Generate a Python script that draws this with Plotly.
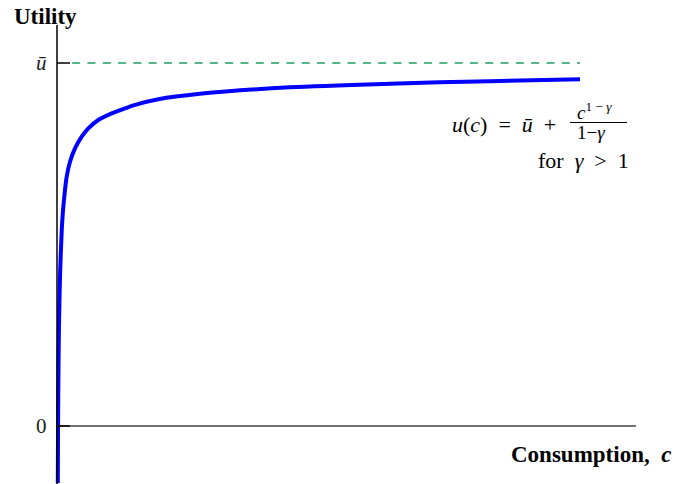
import plotly.graph_objects as go

# ---- data ----
consumption = [0.0153, 0.0201, 0.0287, 0.0382, 0.0574, 0.0765, 0.1013, 0.1396, 0.1855,
               0.2486, 0.3442, 0.4723, 0.5985, 0.7897, 1.0459, 1.3002, 1.478, 1.937,
               2.734, 4.455, 6.367, 8.279, 10.0]
utility = [-0.157, 0.0, 0.160, 0.278, 0.410, 0.490, 0.567, 0.632, 0.687,
           0.728, 0.765, 0.797, 0.820, 0.843, 0.861, 0.875, 0.884, 0.900,
           0.915, 0.933, 0.943, 0.950, 0.955]
u_bar = 1.0
bar_c = [0.29, 10.0]
tick_vals = [0, u_bar]
tick_labels = ["0", "<i>ū</i>"]

W, H = 675, 484
X0, SX = 57, 52.3   # pixel of c=0, px per unit
Y0, SY = 426, 363   # pixel of u=0, px per unit

def px(x):
    return x / W

def py(y):
    return 1 - y / H

FONT = "Liberation Serif"
SP = "\u2002"

fig = go.Figure()

fig.add_trace(go.Scatter(x=bar_c, y=[u_bar, u_bar], mode="lines",
                         line=dict(color="#1e9e60", width=1.4, dash="8px,7.3px"),
                         hoverinfo="skip"))
fig.add_trace(go.Scatter(x=consumption, y=utility, mode="lines",
                         line=dict(color="#0000ff", width=4, shape="spline", smoothing=0.8),
                         hoverinfo="skip"))

x_axis_end = (636 - X0) / SX
y_axis_top = (Y0 - 25) / SY
y_bottom = (Y0 - 490) / SY
tick_len = (70 - X0) / SX

shapes = [
    dict(type="line", xref="x", yref="y", x0=0, x1=x_axis_end, y0=0, y1=0,
         line=dict(color="#444444", width=1.5)),
    dict(type="line", xref="x", yref="y", x0=0, x1=0, y0=y_bottom, y1=y_axis_top,
         line=dict(color="#000000", width=1.5)),
]
for v in tick_vals:
    shapes.append(dict(type="line", xref="x", yref="y", x0=0, x1=tick_len, y0=v, y1=v,
                       line=dict(color="#000000", width=1.5)))
# fraction bar
shapes.append(dict(type="line", xref="paper", yref="paper", x0=px(570), x1=px(627),
                   y0=py(122.5), y1=py(122.5), line=dict(color="#000000", width=1)))

annotations = []
for v, lab in zip(tick_vals, tick_labels):
    annotations.append(dict(x=0, y=v, xref="x", yref="y", text=lab, showarrow=False,
                            xanchor="right", yanchor="middle", xshift=-8,
                            font=dict(family=FONT, size=21, color="#222222")))

annotations += [
    dict(x=px(12), y=py(16), xref="paper", yref="paper", text="<b>Utility</b>",
         showarrow=False, xanchor="left", yanchor="middle",
         font=dict(family=FONT, size=23, color="#000000")),
    dict(x=px(673), y=py(454), xref="paper", yref="paper",
         text="<b>Consumption," + SP + "<i>c</i></b>", showarrow=False,
         xanchor="right", yanchor="middle",
         font=dict(family=FONT, size=23, color="#000000")),
    dict(x=px(558), y=py(124), xref="paper", yref="paper",
         text="<i>u</i>(<i>c</i>)" + SP + "=" + SP + "<i>ū</i>" + SP + "+",
         showarrow=False, xanchor="right", yanchor="middle",
         font=dict(family=FONT, size=22, color="#000000")),
    dict(x=px(594), y=py(111), xref="paper", yref="paper",
         text="<i>c</i><sup>1 − <i>γ</i></sup>", showarrow=False,
         xanchor="center", yanchor="middle",
         font=dict(family=FONT, size=19, color="#000000")),
    dict(x=px(591), y=py(132), xref="paper", yref="paper",
         text="1−<i>γ</i>", showarrow=False,
         xanchor="center", yanchor="middle",
         font=dict(family=FONT, size=19, color="#000000")),
    dict(x=px(631), y=py(161), xref="paper", yref="paper",
         text="for" + SP + "<i>γ</i>" + SP + ">" + SP + "1", showarrow=False,
         xanchor="right", yanchor="middle",
         font=dict(family=FONT, size=22, color="#000000")),
]

fig.update_layout(
    width=W, height=H,
    margin=dict(l=0, r=0, t=0, b=0),
    paper_bgcolor="white", plot_bgcolor="white",
    showlegend=False,
    xaxis=dict(range=[-X0 / SX, (W - X0) / SX], visible=False, fixedrange=True),
    yaxis=dict(range=[(Y0 - H) / SY, Y0 / SY], visible=False, fixedrange=True),
    shapes=shapes,
    annotations=annotations,
)

fig.write_html("out.html", config={"displayModeBar": False},
               post_script="document.body.style.margin='0px';document.body.style.overflow='hidden';")
